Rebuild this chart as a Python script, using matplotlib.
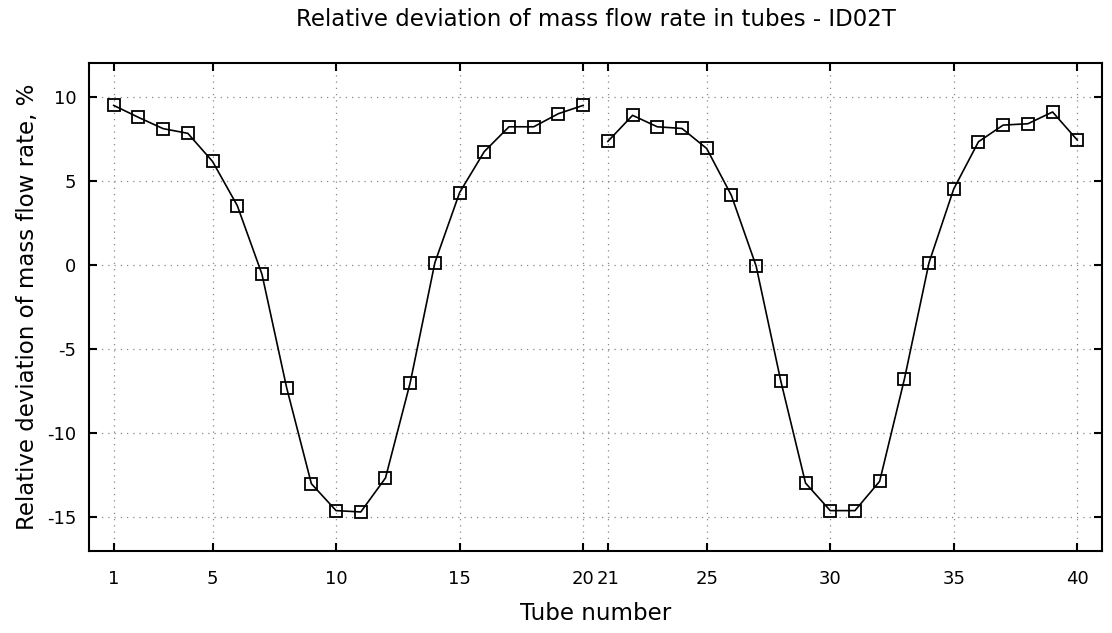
import matplotlib
matplotlib.use("Agg")
import matplotlib.pyplot as plt

tubes_a = list(range(1, 21))
dev_a = [9.48, 8.77, 8.10, 7.82, 6.15, 3.53, -0.55, -7.30, -13.00, -14.60,
         -14.68, -12.66, -7.00, 0.14, 4.30, 6.74, 8.21, 8.21, 8.99, 9.48]
tubes_b = list(range(21, 41))
dev_b = [7.34, 8.89, 8.21, 8.11, 6.92, 4.13, -0.06, -6.90, -12.96, -14.60,
         -14.60, -12.86, -6.80, 0.14, 4.52, 7.32, 8.31, 8.39, 9.09, 7.42]
xticks = [1, 5, 10, 15, 20, 21, 25, 30, 35, 40]
yticks = [-15, -10, -5, 0, 5, 10]

plt.rcParams['font.family'] = ['DejaVu Sans']
plt.rcParams['axes.unicode_minus'] = False
fig = plt.figure(figsize=(11.12, 6.33), dpi=100)
ax = fig.add_axes([89/1112, 1-551/633, (1102-89)/1112, (551-63)/633])

for xs, ys in ((tubes_a, dev_a), (tubes_b, dev_b)):
    ax.plot(xs, ys, color='black', lw=1.2, marker='s', markersize=9,
            markerfacecolor='none', markeredgecolor='black', markeredgewidth=1.3)

ax.set_xlim(0, 41)
ax.set_ylim(-17, 12)
ax.set_xticks(xticks)
ax.set_xticklabels([str(t) for t in xticks])
ax.set_yticks(yticks)
ax.tick_params(direction='in', length=6, width=1.5, top=True, right=True,
               labelsize=13)
ax.tick_params(axis='x', pad=14)
ax.tick_params(axis='y', pad=9)
ax.grid(True, color='#888888', linestyle=(0, (1, 4)), linewidth=0.9)
for s in ax.spines.values():
    s.set_linewidth(1.5)

ax.set_xlabel('Tube number', fontsize=16.5, labelpad=10)
ax.set_ylabel('Relative deviation of mass flow rate, %', fontsize=16.5, labelpad=6)
ax.set_title('Relative deviation of mass flow rate in tubes - ID02T', fontsize=16.5, pad=27)

fig.savefig('out.png', dpi=100)
